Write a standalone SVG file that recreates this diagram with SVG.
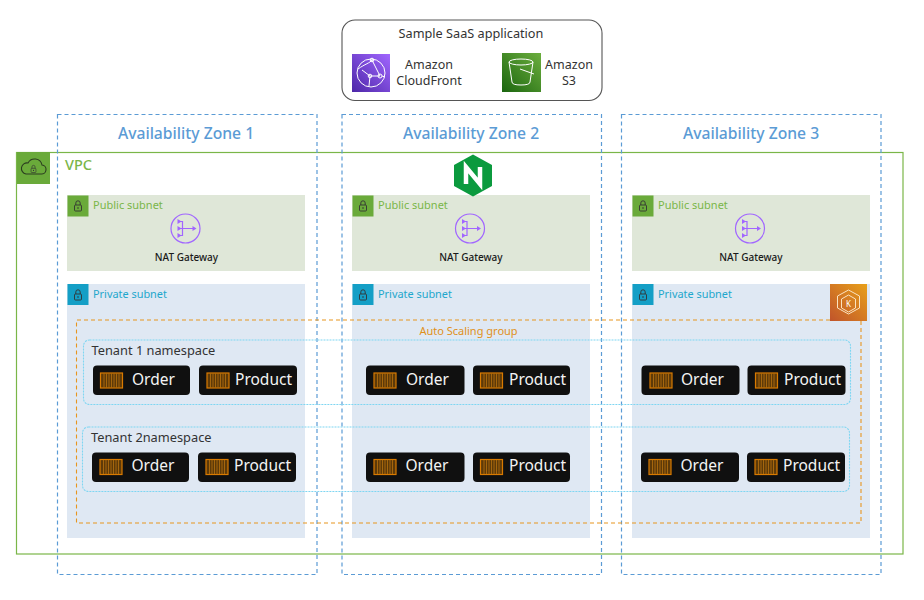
<svg xmlns="http://www.w3.org/2000/svg" width="924" height="600" viewBox="0 0 924 600">
<style>
text{font-family:"Noto Sans","DejaVu Sans",sans-serif}
.az{fill:none;stroke:#5b9bd5;stroke-width:1.200;stroke-dasharray:4 3}
.azt{font-size:15.700px;fill:#5b9bd5;text-anchor:middle;font-weight:500}
.pub{fill:#dfe7d8}
.pri{fill:#dfe8f3}
.subg{font-size:11px;fill:#7ab648}
.subb{font-size:10.900px;fill:#1ea7cc}
.nat{font-size:10px;fill:#1a1a1a;text-anchor:middle;font-weight:500}
.pill{fill:#101010}
.pt{font-size:15.500px;fill:#f4f4f4}
.ns{fill:none;stroke:#7fd6f2;stroke-width:1.100;stroke-dasharray:2 1}
.nst{font-size:12.800px;fill:#333}
.lbl{font-size:12.500px;fill:#333;text-anchor:middle}
.ttl{font-size:12.700px;fill:#333;text-anchor:middle}
.ctr{fill:#5e3a08;stroke:#d97a00;stroke-width:1.200}
.ctrl{stroke:#c47a10;stroke-width:.7}
.ln{fill:none;stroke:#fff;stroke-width:1}
.nl{fill:none;stroke:#a166ff;stroke-width:1.200}
</style>
<defs>
<linearGradient id="gp" x1="0" y1="1" x2="1" y2="0"><stop offset="0" stop-color="#4d27a8"/><stop offset="1" stop-color="#a166ff"/></linearGradient>
<linearGradient id="gg" x1="0" y1="1" x2="1" y2="0"><stop offset="0" stop-color="#1b660f"/><stop offset="1" stop-color="#6cae3e"/></linearGradient>
<linearGradient id="go" x1="0" y1="1" x2="1" y2="0"><stop offset="0" stop-color="#c0542b"/><stop offset="1" stop-color="#e8a01a"/></linearGradient>
<g id="c"><rect class="ctr" x="0.500" y="0.500" width="22" height="15"/><path class="ctrl" d="M4 1V15M6.500 1V15M9 1V15M11.500 1V15M14 1V15M16.500 1V15M19 1V15"/></g>
<g id="lock"><rect x="-3.500" y="-1" width="7" height="6" rx="1" fill="none" stroke="#333" stroke-width=".9"/><path d="M-2.200 -1V-3a2.200 2.200 0 0 1 4.400 0V-1" fill="none" stroke="#333" stroke-width=".9"/><circle r=".8" cy="2" fill="#333"/></g>
<g id="natg"><circle class="nl" cx="0" cy="0" r="14.500"/><path class="nl" d="M-7 -7H-3V7H-7M-7 0H8"/><path d="M-8 -9.500l4 2.500-4 2.500zM-8 -2.500l4 2.500-4 2.500zM-8 4.500l4 2.500-4 2.500zM7 -2.500l4 2.500-4 2.500z" fill="#a166ff"/></g>
</defs>

<g id="connectors"/>

<g id="vpc">
<rect x="16.500" y="152.500" width="886.500" height="401.500" fill="none" stroke="#7ab648" stroke-width="1.200"/>
<rect x="17" y="152" width="33" height="32" fill="#6aaa3a"/>
<path d="M26 174h15a4.500 4.500 0 0 0 1-9 7.500 7.500 0 0 0-14-2 5.500 5.500 0 0 0-2 11z" fill="none" stroke="#2b3d20" stroke-width="1.100"/>
<use href="#lock" transform="translate(33.500 169) scale(.7)"/>
<text x="65" y="170" fill="#7ab648" style="font-size:14.500px;font-weight:500">VPC</text>
</g>

<g id="subnets">
<g id="public-1"><rect class="pub" x="67" y="195" width="238" height="76"/><rect x="67.500" y="195.500" width="21" height="21" fill="#6aaa3a"/><use href="#lock" transform="translate(78 206)"/><text class="subg" x="93" y="209">Public subnet</text><use href="#natg" transform="translate(185.500 228.500)"/><text class="nat" x="186.500" y="261">NAT Gateway</text></g>
<g id="public-2"><rect class="pub" x="352" y="195" width="238" height="76"/><rect x="352.500" y="195.500" width="21" height="21" fill="#6aaa3a"/><use href="#lock" transform="translate(363 206)"/><text class="subg" x="378" y="209">Public subnet</text><use href="#natg" transform="translate(470 228.500)"/><text class="nat" x="471" y="261">NAT Gateway</text></g>
<g id="public-3"><rect class="pub" x="632" y="195" width="238" height="76"/><rect x="632.500" y="195.500" width="21" height="21" fill="#6aaa3a"/><use href="#lock" transform="translate(643 206)"/><text class="subg" x="658" y="209">Public subnet</text><use href="#natg" transform="translate(750 228.500)"/><text class="nat" x="751" y="261">NAT Gateway</text></g>
<g id="private-1"><rect class="pri" x="67" y="284" width="238" height="254"/><rect x="67.500" y="284" width="21" height="21" fill="#149fc6"/><use href="#lock" transform="translate(78 295)"/><text class="subb" x="93" y="298">Private subnet</text></g>
<g id="private-2"><rect class="pri" x="352" y="284" width="238" height="254"/><rect x="352.500" y="284" width="21" height="21" fill="#149fc6"/><use href="#lock" transform="translate(363 295)"/><text class="subb" x="378" y="298">Private subnet</text></g>
<g id="private-3"><rect class="pri" x="632" y="284" width="238" height="254"/><rect x="632.500" y="284" width="21" height="21" fill="#149fc6"/><use href="#lock" transform="translate(643 295)"/><text class="subb" x="658" y="298">Private subnet</text></g>
</g>

<g id="az-1"><rect class="az" x="57.500" y="114.500" width="259.500" height="460"/><text class="azt" x="186" y="139">Availability Zone 1</text></g>
<g id="az-2"><rect class="az" x="342" y="114.500" width="259.500" height="460"/><text class="azt" x="471" y="139">Availability Zone 2</text></g>
<g id="az-3"><rect class="az" x="621.500" y="114.500" width="259.500" height="460"/><text class="azt" x="751" y="139">Availability Zone 3</text></g>

<g id="saas">
<rect x="342" y="20" width="260" height="80.500" rx="13" fill="#fff" stroke="#555" stroke-width="1.100"/>
<text x="471" y="38" class="ttl">Sample SaaS application</text>
<g id="cloudfront"><rect x="352" y="54" width="38" height="38" fill="url(#gp)"/>
<circle cx="371" cy="73" r="14" class="ln"/><path class="ln" d="M358 69c7-5 12-6 14-9M372 60l8 16-10 0-8-6M370 76l-1 10M382 76l3 1"/><circle class="ln" cx="372" cy="60" r="1.800"/><circle class="ln" cx="380" cy="76" r="2"/><circle class="ln" cx="370" cy="76" r="1.800"/>
<text x="429" y="69" class="lbl">Amazon</text><text x="429" y="85" class="lbl">CloudFront</text></g>
<g id="s3"><rect x="502" y="53" width="39" height="39" fill="url(#gg)"/>
<ellipse cx="521" cy="62" rx="12" ry="3" class="ln"/><path class="ln" d="M509 62l3 20q0 3 9 3t9-3l3-20M520 69l14 5"/>
<text x="569" y="69" class="lbl">Amazon</text><text x="569" y="85" class="lbl">S3</text></g>
</g>

<g id="nginx"><path d="M473 154.500l19 10.500v21l-19 10.500-19-10.500v-21z" fill="#0b9a3e"/><path d="M466 184V167l14 17V167" fill="none" stroke="#fff" stroke-width="4.500"/></g>

<g id="eks"><rect x="830" y="284" width="37" height="37" fill="url(#go)"/><path d="M848.500 290l11 6v12l-11 6-11-6v-12z M848.500 295l7 4v9l-7 4-7-4v-9z" fill="none" stroke="#fbe3c0" stroke-width="1"/><text x="848.500" y="307" fill="#fff" text-anchor="middle" style="font-size:8px">K</text></g>

<g id="asg"><path d="M830 320H76.500V523H861V321" fill="none" stroke="#e8951f" stroke-width="1.100" stroke-dasharray="4 3"/><text x="468.500" y="335" fill="#e0901a" text-anchor="middle" style="font-size:11px">Auto Scaling group</text></g>

<g id="tenant-1"><rect class="ns" x="83.500" y="340" width="767" height="64.500" rx="6"/><text class="nst" x="91.500" y="355">Tenant 1 namespace</text></g>
<g id="tenant-2"><rect class="ns" x="82.500" y="427" width="767" height="64.500" rx="6"/><text class="nst" x="91" y="442">Tenant 2namespace</text></g>

<g id="t1-order-1"><rect class="pill" x="93" y="365.500" width="97" height="29.500" rx="4"/><use href="#c" x="100" y="372.500"/><text class="pt" x="132" y="384.500">Order</text></g>
<g id="t1-product-1"><rect class="pill" x="199" y="365.500" width="98" height="29.500" rx="4"/><use href="#c" x="206.500" y="372.500"/><text class="pt" x="235" y="384.500">Product</text></g>
<g id="t1-order-2"><rect class="pill" x="366" y="365.500" width="98.500" height="29.500" rx="4"/><use href="#c" x="373.500" y="372.500"/><text class="pt" x="406" y="384.500">Order</text></g>
<g id="t1-product-2"><rect class="pill" x="473" y="365.500" width="97" height="29.500" rx="4"/><use href="#c" x="480" y="372.500"/><text class="pt" x="509" y="384.500">Product</text></g>
<g id="t1-order-3"><rect class="pill" x="641.500" y="365.500" width="98" height="29.500" rx="4"/><use href="#c" x="649.500" y="372.500"/><text class="pt" x="681" y="384.500">Order</text></g>
<g id="t1-product-3"><rect class="pill" x="747.500" y="365.500" width="98" height="29.500" rx="4"/><use href="#c" x="755" y="372.500"/><text class="pt" x="784" y="384.500">Product</text></g>

<g id="t2-order-1"><rect class="pill" x="92" y="452.500" width="97" height="29.500" rx="4"/><use href="#c" x="99.500" y="459"/><text class="pt" x="131.500" y="471">Order</text></g>
<g id="t2-product-1"><rect class="pill" x="198" y="452.500" width="98" height="29.500" rx="4"/><use href="#c" x="205.500" y="459"/><text class="pt" x="234" y="471">Product</text></g>
<g id="t2-order-2"><rect class="pill" x="366" y="452.500" width="98.500" height="29.500" rx="4"/><use href="#c" x="373.500" y="459"/><text class="pt" x="405.500" y="471">Order</text></g>
<g id="t2-product-2"><rect class="pill" x="473" y="452.500" width="97" height="29.500" rx="4"/><use href="#c" x="480" y="459"/><text class="pt" x="509" y="471">Product</text></g>
<g id="t2-order-3"><rect class="pill" x="641" y="452.500" width="98" height="29.500" rx="4"/><use href="#c" x="648.500" y="459"/><text class="pt" x="680.500" y="471">Order</text></g>
<g id="t2-product-3"><rect class="pill" x="747" y="452.500" width="98" height="29.500" rx="4"/><use href="#c" x="754.500" y="459"/><text class="pt" x="783" y="471">Product</text></g>
</svg>
